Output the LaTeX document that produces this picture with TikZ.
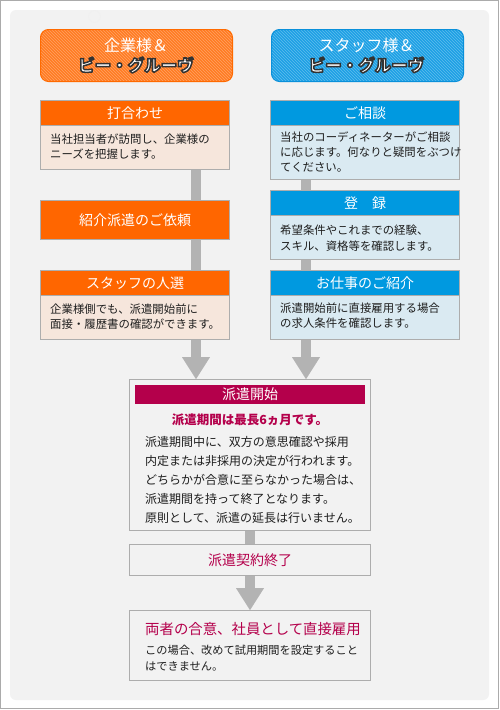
\documentclass[tikz,border=0pt]{standalone}
\usepackage{fontspec}
\newfontfamily\jp{Noto Sans CJK JP}
\usetikzlibrary{arrows.meta,patterns,calc}
\definecolor{panel}{HTML}{F2F2F2}
\definecolor{frame}{HTML}{ABABAB}
\definecolor{bgray}{HTML}{ADADAD}
\definecolor{orgT}{HTML}{FF6600}
\definecolor{orgB}{HTML}{F6E6DC}
\definecolor{bluT}{HTML}{0099E0}
\definecolor{bluB}{HTML}{DAEAF2}
\definecolor{crim}{HTML}{B4004B}
\definecolor{stemc}{HTML}{B3B3B3}
\definecolor{hdrO}{HTML}{FF7B22}
\definecolor{hdrOb}{HTML}{FF6A00}
\definecolor{hdrB}{HTML}{1DA0E5}
\definecolor{hdrBb}{HTML}{0A90DA}
\definecolor{txt}{HTML}{1E1E1E}
\newcommand{\outlinedtext}[1]{\special{pdf:literal direct 0.2 G 1.5 w 1 j 2 Tr}#1\special{pdf:literal direct 0 Tr}}
\begin{document}
\begin{tikzpicture}[x=1pt,y=-1pt,
  every node/.style={inner sep=0pt},
  ttl/.style={anchor=north west, draw=bgray, line width=1pt, minimum width=189pt, minimum height=25pt, text=white, font=\jp\fontsize{14}{16}\selectfont},
  ttlO/.style={ttl, fill=orgT},
  ttlB/.style={ttl, fill=bluT},
  bod/.style={anchor=north west, draw=bgray, line width=1pt, minimum width=189pt},
  bodO/.style={bod, fill=orgB},
  bodB/.style={bod, fill=bluB},
  btxt/.style={anchor=north west, align=left, text=txt, font=\jp\fontsize{11.4}{14.5}\selectfont},
  ctxt/.style={anchor=north west, align=left, text=txt, font=\jp\fontsize{12}{18.8}\selectfont},
  cbx/.style={anchor=north west, draw=bgray, line width=1pt, minimum width=241pt, fill=panel},
  stem/.style={draw=stemc, line width=10pt},
  bigarrow/.style={stem, -{Triangle[width=28pt,length=22pt,line width=0.01pt]}},
  hdr/.style={rounded corners=8pt, line width=1pt, minimum width=192pt, minimum height=52pt, anchor=north west},
  hdrA/.style={text=white, font=\jp\fontsize{16}{18}\selectfont},
  hdrC/.style={text=white, font=\jp\bfseries\fontsize{16.5}{18}\selectfont},
]
\useasboundingbox (0,0) rectangle (500,710);
\fill[white] (0,0) rectangle (500,710);
\draw[frame, line width=1pt] (0.5,0.5) rectangle (498,708.5);
\fill[panel, rounded corners=6pt] (10,10) rectangle (489,700);
\draw[gray!12, line width=0.6pt] (94.5,16.5) circle (6);

% headers
\node[hdr, draw=hdrOb, preaction={fill=hdrO}, pattern=north west lines, pattern color=hdrO!70!white] (hO) at (40,29) {};
\node[hdr, draw=hdrBb, preaction={fill=hdrB}, pattern=north west lines, pattern color=hdrB!70!white] (hB) at (271,29) {};
\node[hdrA] (hOa) at (136,45) {企業様＆};
\node[hdrA] (hBa) at (366.5,45) {スタッフ様＆};
\node[hdrC] (hOb) at (136,65) {\outlinedtext{ビー・グルーヴ}};
\node[hdrC] (hBb) at (366.5,65) {\outlinedtext{ビー・グルーヴ}};

% left column
\node[ttlO] (lt1) at (40,100) {打合わせ};
\node[bodO, minimum height=44pt] (lb1) at (40,125) {};
\node[btxt] (lb1t) at (50,133.8) {当社担当者が訪問し、企業様の\\ニーズを把握します。};
\node[ttlO, minimum height=39pt] (lb2) at (40,200) {紹介派遣のご依頼};
\node[ttlO] (lt3) at (40,270) {スタッフの人選};
\node[bodO, minimum height=44pt] (lb3) at (40,295) {};
\node[btxt] (lb3t) at (50,303.8) {企業様側でも、派遣開始前に\\面接・履歴書の確認ができます。};

% right column
\node[ttlB] (rt1) at (270,100) {ご相談};
\node[bodB, minimum height=54pt] (rb1) at (270,125) {};
\node[btxt, font=\jp\fontsize{11.4}{15}\selectfont] (rb1t) at (280,131.8) {当社のコーディネーターがご相談\\に応じます。何なりと疑問をぶつけ\\てください。};
\node[ttlB] (rt2) at (270,190) {登　録};
\node[bodB, minimum height=44pt] (rb2) at (270,215) {};
\node[btxt, font=\jp\fontsize{11.4}{16}\selectfont] (rb2t) at (280,224.8) {希望条件やこれまでの経験、\\スキル、資格等を確認します。};
\node[ttlB] (rt3) at (270,270) {お仕事のご紹介};
\node[bodB, minimum height=44pt] (rb3) at (270,295) {};
\node[btxt] (rb3t) at (280,302.8) {派遣開始前に直接雇用する場合\\の求人条件を確認します。};

% center boxes
\node[cbx, minimum height=151pt] (cbox) at (129,379) {};
\node[anchor=north west, fill=crim, minimum width=230pt, minimum height=19pt, text=white, font=\jp\fontsize{14}{16}\selectfont] (cttl) at (135,385) {派遣開始};
\node[text=crim, font=\jp\bfseries\fontsize{12.5}{14}\selectfont] (csub) at (250,420) {派遣期間は最長6ヵ月です。};
\node[ctxt] (ctx) at (145,436.6) {派遣期間中に、双方の意思確認や採用\\内定または非採用の決定が行われます。\\どちらかが合意に至らなかった場合は、\\派遣期間を持って終了となります。\\原則として、派遣の延長は行いません。};
\node[cbx, minimum height=31pt, text=crim, font=\jp\fontsize{14}{16}\selectfont] (ebox) at (129,544) {派遣契約終了};
\node[cbx, minimum height=70pt] (fbox) at (129,610) {};
\node[anchor=west, text=crim, font=\jp\fontsize{14.4}{16}\selectfont] (ftl) at (145,629) {両者の合意、社員として直接雇用};
\node[ctxt, font=\jp\fontsize{11.2}{16}\selectfont] (ftx) at (145,644.8) {この場合、改めて試用期間を設定すること\\はできません。};

% connectors
\coordinate (colL) at (196,0);
\coordinate (colR) at (306,0);
\coordinate (colC) at (250,0);
\draw[stem] (lb1.south -| colL) -- (lb2.north -| colL);
\draw[stem] (lb2.south -| colL) -- (lt3.north -| colL);
\draw[stem] (rb1.south -| colR) -- (rt2.north -| colR);
\draw[stem] (rb2.south -| colR) -- (rt3.north -| colR);
\draw[bigarrow] (lb3.south -| colL) -- (cbox.north -| colL);
\draw[bigarrow] (rb3.south -| colR) -- (cbox.north -| colR);
\draw[stem] (cbox.south -| colC) -- (ebox.north -| colC);
\draw[bigarrow] (ebox.south -| colC) -- (fbox.north -| colC);
\end{tikzpicture}
\end{document}
